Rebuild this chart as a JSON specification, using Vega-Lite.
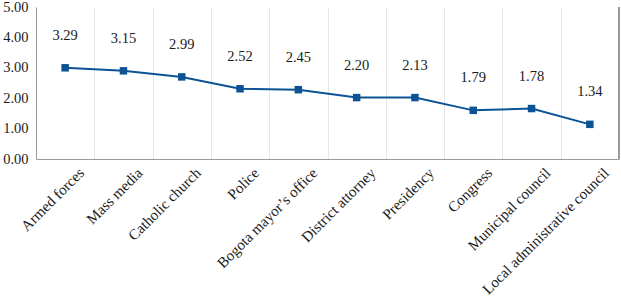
{
  "$schema": "https://vega.github.io/schema/vega-lite/v6.json",
  "width": 583,
  "height": 152,
  "autosize": "none",
  "padding": {"left": 36, "top": 7, "right": 2, "bottom": 147},
  "config": {
    "view": {"stroke": null}
  },
  "data": {
    "values": [
      {"institution": "Armed forces", "score": 3.29, "plotted": 3.0},
      {"institution": "Mass media", "score": 3.15, "plotted": 2.9},
      {"institution": "Catholic church", "score": 2.99, "plotted": 2.7},
      {"institution": "Police", "score": 2.52, "plotted": 2.31},
      {"institution": "Bogota mayor’s office", "score": 2.45, "plotted": 2.28},
      {"institution": "District attorney", "score": 2.2, "plotted": 2.02},
      {"institution": "Presidency", "score": 2.13, "plotted": 2.02},
      {"institution": "Congress", "score": 1.79, "plotted": 1.6},
      {"institution": "Municipal council", "score": 1.78, "plotted": 1.66},
      {"institution": "Local administrative council", "score": 1.34, "plotted": 1.14}
    ]
  },
  "encoding": {
    "x": {
      "field": "institution",
      "type": "nominal",
      "sort": null,
      "scale": {"paddingInner": 0, "paddingOuter": 0},
      "axis": {
        "title": null,
        "labelAngle": -45,
        "labelFont": "Liberation Serif",
        "labelFontSize": 15,
        "labelColor": "#1a1a1a",
        "labelPadding": 6,
        "labelOffset": 11,
        "tickBand": "extent",
        "ticks": false,
        "grid": true,
        "gridColor": "#e6e6e6",
        "domainColor": "#9a9a9a",
        "labelLimit": 300
      }
    },
    "y": {
      "field": "plotted",
      "type": "quantitative",
      "scale": {"domain": [0, 5]},
      "axis": {
        "title": null,
        "values": [0, 1, 2, 3, 4, 5],
        "format": ".2f",
        "labelFont": "Liberation Serif",
        "labelFontSize": 14.5,
        "labelColor": "#1a1a1a",
        "labelPadding": 8,
        "ticks": false,
        "grid": false,
        "domainColor": "#9a9a9a"
      }
    }
  },
  "layer": [
    {
      "mark": {"type": "line", "color": "#0b5394", "strokeWidth": 2}
    },
    {
      "mark": {"type": "point", "shape": "square", "filled": true, "color": "#0b5394", "size": 56, "opacity": 1}
    },
    {
      "mark": {"type": "text", "dy": -32, "fontSize": 14.5, "color": "#1a1a1a", "font": "Liberation Serif"},
      "encoding": {
        "text": {"field": "score", "type": "quantitative", "format": ".2f"}
      }
    },
    {
      "mark": {"type": "rule", "color": "#9a9a9a", "strokeWidth": 1},
      "encoding": {
        "x": {"datum": "Local administrative council", "type": "nominal", "bandPosition": 1},
        "y": null
      }
    }
  ]
}
